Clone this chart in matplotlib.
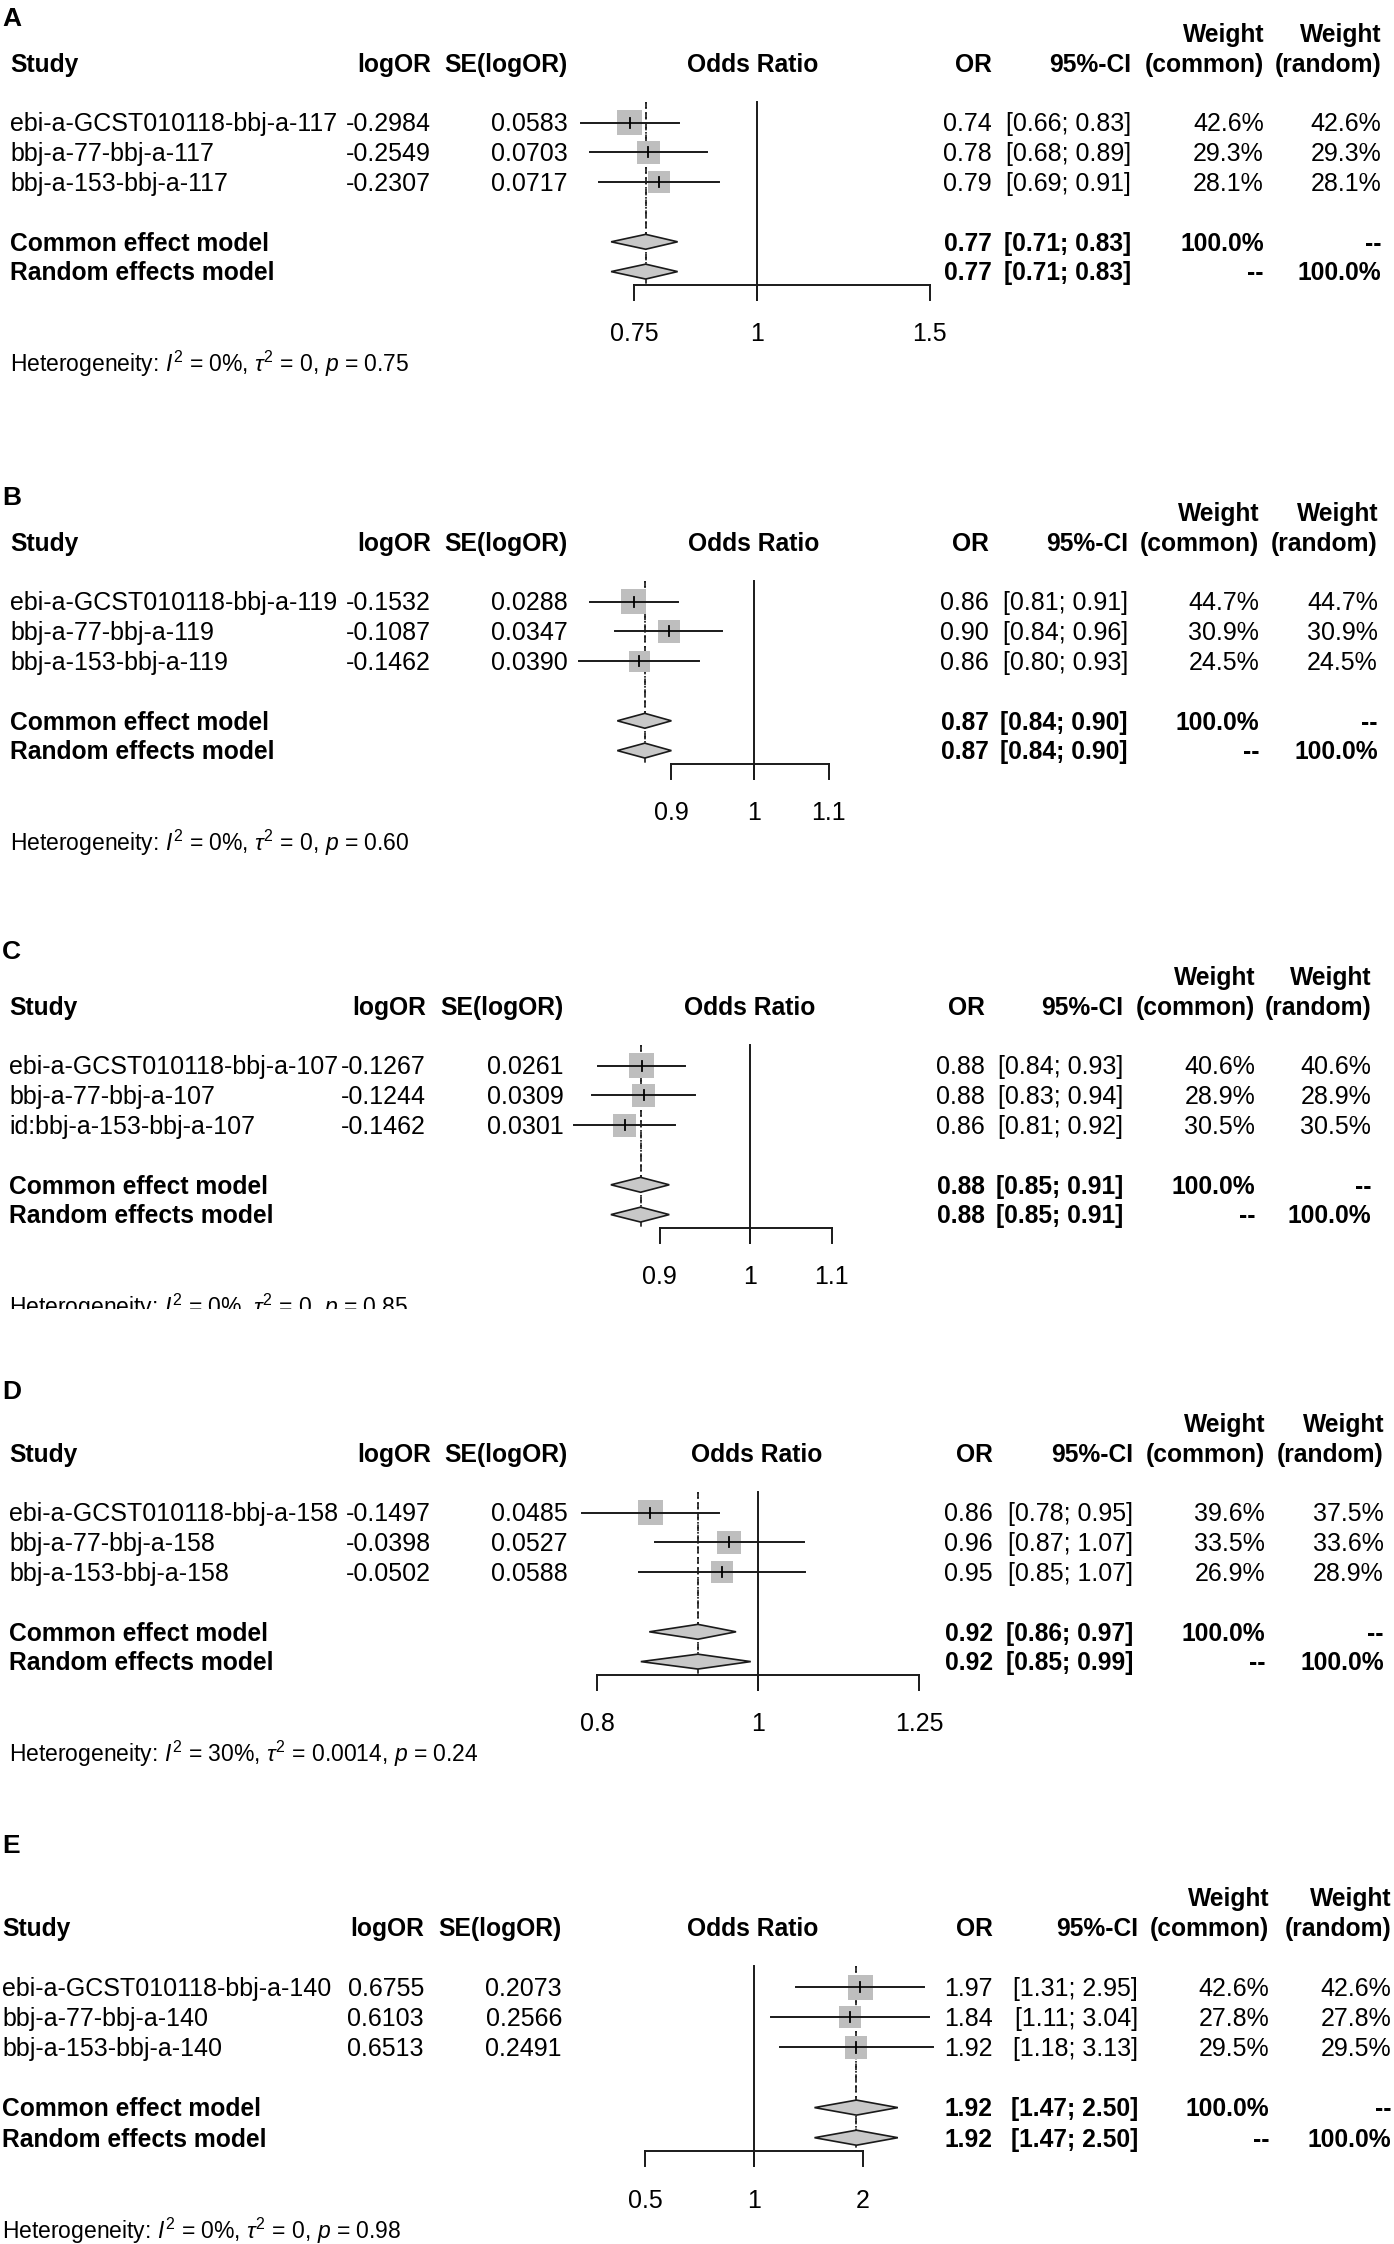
import numpy as np
import matplotlib.pyplot as plt
from matplotlib.transforms import blended_transform_factory
from matplotlib.patches import Polygon, Rectangle

plt.rcParams['font.family'] = ['Liberation Sans', 'DejaVu Sans']
plt.rcParams['mathtext.fontset'] = 'custom'
plt.rcParams['mathtext.rm'] = 'Liberation Sans'
plt.rcParams['mathtext.it'] = 'Liberation Sans:italic'
plt.rcParams['mathtext.bf'] = 'Liberation Sans:bold'

# ---- panel A ----
studies_a = ["ebi-a-GCST010118-bbj-a-117", "bbj-a-77-bbj-a-117", "bbj-a-153-bbj-a-117"]
logor_a = [-0.2984, -0.2549, -0.2307]
se_a = [0.0583, 0.0703, 0.0717]
or_a = [0.74, 0.78, 0.79]
lo_a = [0.66, 0.68, 0.69]
hi_a = [0.83, 0.89, 0.91]
wcom_a = [42.6, 29.3, 28.1]
wran_a = [42.6, 29.3, 28.1]
common_a = [0.77, 0.71, 0.83]
random_a = [0.77, 0.71, 0.83]
ticks_a = [0.75, 1, 1.5]
tick_labels_a = ["0.75", "1", "1.5"]
het_a = ["0%", "0", "0.75"]

# ---- panel B ----
studies_b = ["ebi-a-GCST010118-bbj-a-119", "bbj-a-77-bbj-a-119", "bbj-a-153-bbj-a-119"]
logor_b = [-0.1532, -0.1087, -0.1462]
se_b = [0.0288, 0.0347, 0.0390]
or_b = [0.86, 0.90, 0.86]
lo_b = [0.81, 0.84, 0.80]
hi_b = [0.91, 0.96, 0.93]
wcom_b = [44.7, 30.9, 24.5]
wran_b = [44.7, 30.9, 24.5]
common_b = [0.87, 0.84, 0.90]
random_b = [0.87, 0.84, 0.90]
ticks_b = [0.9, 1, 1.1]
tick_labels_b = ["0.9", "1", "1.1"]
het_b = ["0%", "0", "0.60"]

# ---- panel C ----
studies_c = ["ebi-a-GCST010118-bbj-a-107", "bbj-a-77-bbj-a-107", "id:bbj-a-153-bbj-a-107"]
logor_c = [-0.1267, -0.1244, -0.1462]
se_c = [0.0261, 0.0309, 0.0301]
or_c = [0.88, 0.88, 0.86]
lo_c = [0.84, 0.83, 0.81]
hi_c = [0.93, 0.94, 0.92]
wcom_c = [40.6, 28.9, 30.5]
wran_c = [40.6, 28.9, 30.5]
common_c = [0.88, 0.85, 0.91]
random_c = [0.88, 0.85, 0.91]
ticks_c = [0.9, 1, 1.1]
tick_labels_c = ["0.9", "1", "1.1"]
het_c = ["0%", "0", "0.85"]

# ---- panel D ----
studies_d = ["ebi-a-GCST010118-bbj-a-158", "bbj-a-77-bbj-a-158", "bbj-a-153-bbj-a-158"]
logor_d = [-0.1497, -0.0398, -0.0502]
se_d = [0.0485, 0.0527, 0.0588]
or_d = [0.86, 0.96, 0.95]
lo_d = [0.78, 0.87, 0.85]
hi_d = [0.95, 1.07, 1.07]
wcom_d = [39.6, 33.5, 26.9]
wran_d = [37.5, 33.6, 28.9]
common_d = [0.92, 0.86, 0.97]
random_d = [0.92, 0.85, 0.99]
ticks_d = [0.8, 1, 1.25]
tick_labels_d = ["0.8", "1", "1.25"]
het_d = ["30%", "0.0014", "0.24"]

# ---- panel E ----
studies_e = ["ebi-a-GCST010118-bbj-a-140", "bbj-a-77-bbj-a-140", "bbj-a-153-bbj-a-140"]
logor_e = [0.6755, 0.6103, 0.6513]
se_e = [0.2073, 0.2566, 0.2491]
or_e = [1.97, 1.84, 1.92]
lo_e = [1.31, 1.11, 1.18]
hi_e = [2.95, 3.04, 3.13]
wcom_e = [42.6, 27.8, 29.5]
wran_e = [42.6, 27.8, 29.5]
common_e = [1.92, 1.47, 2.50]
random_e = [1.92, 1.47, 2.50]
ticks_e = [0.5, 1, 2]
tick_labels_e = ["0.5", "1", "2"]
het_e = ["0%", "0", "0.98"]

W, H = 1394, 2244
FS = 18.0
FS_BOLD = 17.7
HET_FS = 16.5
SQ_GRAY = '#bebebe'
DIA_GRAY = '#c8c8c8'
DY = 0.06  # small downward nudge of text to match the source baseline

# layout (pixels): header row y, row height, x of OR=1, px per log unit, column x
layouts = {
    'A': dict(hdr=63, u=29.8, lab=-1.55, x1=757, k=426,
              cols=[10, 431, 568, 753, 992, 1131, 1264, 1381]),
    'B': dict(hdr=542, u=29.8, lab=-1.55, x1=754, k=784,
              cols=[10, 431, 568, 754, 989, 1128, 1259, 1378]),
    'C': dict(hdr=1006, u=29.8, lab=-1.88, x1=750, k=856,
              cols=[9, 426, 564, 750, 985, 1123, 1255, 1371]),
    'D': dict(hdr=1453, u=29.8, lab=-2.1, x1=758, k=721,
              cols=[9, 431, 568, 757, 993, 1133, 1265, 1384]),
    'E': dict(hdr=1927, u=30.1, lab=-2.76, x1=754, k=157,
              cols=[2, 424, 562, 753, 993, 1138, 1269, 1391]),
}

panels = [
    ('A', studies_a, logor_a, se_a, or_a, lo_a, hi_a, wcom_a, wran_a, common_a, random_a, ticks_a, tick_labels_a, het_a),
    ('B', studies_b, logor_b, se_b, or_b, lo_b, hi_b, wcom_b, wran_b, common_b, random_b, ticks_b, tick_labels_b, het_b),
    ('C', studies_c, logor_c, se_c, or_c, lo_c, hi_c, wcom_c, wran_c, common_c, random_c, ticks_c, tick_labels_c, het_c),
    ('D', studies_d, logor_d, se_d, or_d, lo_d, hi_d, wcom_d, wran_d, common_d, random_d, ticks_d, tick_labels_d, het_d),
    ('E', studies_e, logor_e, se_e, or_e, lo_e, hi_e, wcom_e, wran_e, common_e, random_e, ticks_e, tick_labels_e, het_e),
]

fig = plt.figure(figsize=(W / 100, H / 100), dpi=100)
fig.patch.set_facecolor('white')


def draw_panel(name, studies, logor, se, orv, lo, hi, wcom, wran, com, ran, ticks, tlabels, het):
    L = layouts[name]
    u = L['u']
    top_row, bot_row = -3.5, 11.0
    top_px = L['hdr'] + top_row * u
    bot_px = L['hdr'] + bot_row * u
    ax = fig.add_axes([0, 1 - bot_px / H, 1, (bot_px - top_px) / H])
    ax.set_xscale('log')
    ax.set_xlim(np.exp(-L['x1'] / L['k']), np.exp((W - L['x1']) / L['k']))
    ax.set_ylim(bot_row, top_row)
    ax.axis('off')
    tr = blended_transform_factory(fig.transFigure, ax.transData)
    c = L['cols']

    def put(x, row, s, ha='right', bold=False, size=None):
        if size is None:
            size = FS_BOLD if bold else FS
        ax.text(x / W, row + DY, s, transform=tr, ha=ha, va='center', fontsize=size,
                fontweight='bold' if bold else 'normal', color='black')

    # panel letter and headers
    put(2, L['lab'], name, ha='left', bold=True, size=19)
    put(c[0], 0, "Study", ha='left', bold=True)
    put(c[1], 0, "logOR", bold=True)
    put(c[2], 0, "SE(logOR)", bold=True)
    put(c[3], 0, "Odds Ratio", ha='center', bold=True)
    put(c[4], 0, "OR", bold=True)
    put(c[5], 0, "95%-CI", bold=True)
    put(c[6], -1, "Weight", bold=True)
    put(c[6], 0, "(common)", bold=True)
    put(c[7], -1, "Weight", bold=True)
    put(c[7], 0, "(random)", bold=True)

    rows = [2, 3, 4]
    wmax = max(wcom)
    est = np.exp(np.array(logor))
    ci_lo = np.exp(np.array(logor) - 1.96 * np.array(se))
    ci_hi = np.exp(np.array(logor) + 1.96 * np.array(se))
    for i, r in enumerate(rows):
        put(c[0], r, studies[i], ha='left')
        put(c[1], r, f"{logor[i]:.4f}")
        put(c[2], r, f"{se[i]:.4f}")
        put(c[4], r, f"{orv[i]:.2f}")
        put(c[5], r, f"[{lo[i]:.2f}; {hi[i]:.2f}]")
        put(c[6], r, f"{wcom[i]:.1f}%")
        put(c[7], r, f"{wran[i]:.1f}%")
        side = 25 * (wcom[i] / wmax) ** 0.3 * 0.72
        ax.scatter([est[i]], [r], marker='s', s=side ** 2, color=SQ_GRAY,
                   edgecolors='none', zorder=2)
        ax.plot([ci_lo[i], ci_hi[i]], [r, r], color='#1a1a1a', lw=1.4, zorder=3)
        ax.plot([est[i], est[i]], [r - 0.17, r + 0.17], color='black', lw=1.3, zorder=3)

    # pooled rows
    put(c[0], 6, "Common effect model", ha='left', bold=True)
    put(c[0], 7, "Random effects model", ha='left', bold=True)
    put(c[4], 6, f"{com[0]:.2f}", bold=True)
    put(c[5], 6, f"[{com[1]:.2f}; {com[2]:.2f}]", bold=True)
    put(c[6], 6, "100.0%", bold=True)
    put(c[7], 6, "--", bold=True)
    put(c[4], 7, f"{ran[0]:.2f}", bold=True)
    put(c[5], 7, f"[{ran[1]:.2f}; {ran[2]:.2f}]", bold=True)
    put(c[6], 7, "--", bold=True)
    put(c[7], 7, "100.0%", bold=True)
    for r, (e, l, h) in zip([6, 7], [com, ran]):
        dia = Polygon([[l, r], [e, r - 0.25], [h, r], [e, r + 0.25]], closed=True,
                      facecolor=DIA_GRAY, edgecolor='#1a1a1a', lw=1.2, zorder=4)
        ax.add_patch(dia)

    # reference line, pooled lines and x axis
    axis_row = 7.45
    ax.plot([1, 1], [1.3, axis_row + 0.5], color='#1a1a1a', lw=1.4, zorder=1)
    ax.plot([com[0], com[0]], [1.3, axis_row], color='#1a1a1a', lw=1.2,
            linestyle=(0, (4, 2.5)), zorder=1)
    ax.plot([ran[0], ran[0]], [1.3, axis_row], color='#1a1a1a', lw=1.2,
            linestyle=(0, (1, 2)), zorder=1)
    ax.plot([ticks[0], ticks[-1]], [axis_row, axis_row], color='#1a1a1a', lw=1.4)
    for t, tl in zip(ticks, tlabels):
        ax.plot([t, t], [axis_row, axis_row + 0.5], color='#1a1a1a', lw=1.4)
        ax.text(t, 9.05 + DY, tl, ha='center', va='center', fontsize=FS)

    put(c[0], 10.05, r"Heterogeneity: $\mathit{I}^2$ = " + het[0]
        + r", $\tau^2$ = " + het[1] + r", $\mathit{p}$ = " + het[2],
        ha='left', size=HET_FS)


for p in panels:
    draw_panel(*p)

# panel C in the source is cut off through its heterogeneity line
fig.add_artist(Rectangle((0, 1 - 1372 / H), 0.6, (1372 - 1309) / H,
                         transform=fig.transFigure, facecolor='white',
                         edgecolor='none', zorder=20))

fig.savefig('out.png', dpi=100, facecolor='white')
